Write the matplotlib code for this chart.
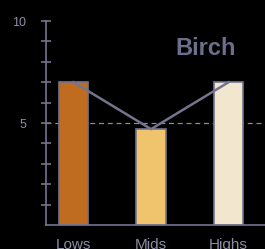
import matplotlib
matplotlib.use('Agg')
import matplotlib.pyplot as plt
from matplotlib.ticker import FixedLocator, FixedFormatter

categories = ['Lows', 'Mids', 'Highs']
values = [7.0, 4.7, 7.0]
bar_colors = ['#c06c20', '#f0c46c', '#f2e6cf']
yticks = [1, 2, 3, 4, 5, 6, 7, 8, 9, 10]
ytick_labels = ['', '', '', '', '5', '', '', '', '', '10']
title = 'Birch'
ref_level = 5

plt.rcParams['font.family'] = ['Liberation Sans', 'DejaVu Sans']

edge = '#74748e'
text_col = '#8c8ca6'

fig = plt.figure(figsize=(2.65, 2.49), dpi=100)
fig.patch.set_facecolor('black')
ax = fig.add_axes([46 / 265, 24 / 249, 219 / 265, 204 / 249])
ax.set_facecolor('black')

x = list(range(len(categories)))
ax.bar(x, values, width=0.38, color=bar_colors, edgecolor=edge, linewidth=1.2, zorder=2)
ax.plot(x, values, color=edge, linewidth=1.8, zorder=3)
ax.axhline(ref_level, color='#8a8aa2', linewidth=0.9, linestyle=(0, (4, 3)), zorder=1)

ax.set_xlim(-0.355, 2.47)
ax.set_ylim(0, 10)

ax.spines['top'].set_visible(False)
ax.spines['right'].set_visible(False)
ax.spines['left'].set_color(edge)
ax.spines['bottom'].set_color(edge)
ax.spines['left'].set_linewidth(1.2)
ax.spines['bottom'].set_linewidth(1.2)

ax.yaxis.set_major_locator(FixedLocator(yticks))
ax.yaxis.set_major_formatter(FixedFormatter(ytick_labels))
ax.tick_params(axis='y', direction='inout', length=6.5, width=1.2, color=edge,
               labelcolor=text_col, labelsize=9, pad=11)
ax.set_xticks(x)
ax.set_xticklabels(categories)
ax.tick_params(axis='x', length=0, labelcolor=text_col, labelsize=11, pad=9)

ax.text(0.73, 0.863, title, transform=ax.transAxes, ha='center', va='center',
        fontsize=17, fontweight='bold', color='#6e6e8c')

fig.savefig('out.png', facecolor=fig.get_facecolor())
